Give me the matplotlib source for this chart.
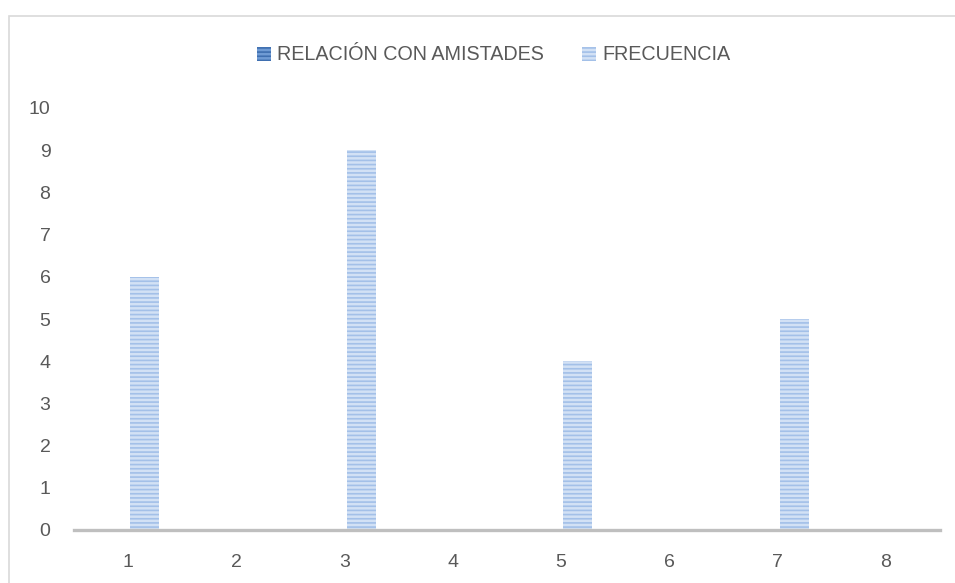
import matplotlib
matplotlib.use("Agg")
import matplotlib.pyplot as plt
import numpy as np
from matplotlib.patches import Rectangle

categories = ["1", "2", "3", "4", "5", "6", "7", "8"]
relacion = [0, 0, 0, 0, 0, 0, 0, 0]
frecuencia = [6, 0, 9, 0, 4, 0, 5, 0]
series_names = ["RELACIÓN CON AMISTADES", "FRECUENCIA"]
yticks = list(range(0, 11))

plt.rcParams['font.family'] = ['Liberation Sans', 'DejaVu Sans']
plt.rcParams['hatch.linewidth'] = 1.2

fig = plt.figure(figsize=(9.55, 5.83), dpi=100)
fig.patches.append(Rectangle((9/955, -0.1), 1.0, 1 - 16/583 + 0.1, transform=fig.transFigure,
                             fill=False, edgecolor='#d9d9d9', linewidth=1.2))
ax = fig.add_axes([74/955, 1 - 530/583, 866/955, 422/583])

x = np.arange(len(categories))
w = 0.268
b1 = ax.bar(x - 0.135, relacion, width=w, facecolor='#6f9bd4', edgecolor='#3f6fb0',
            hatch='----', linewidth=0, label=series_names[0])
b2 = ax.bar(x + 0.152, frecuencia, width=w, facecolor='#d2e1f5', edgecolor='#a3c0e8',
            hatch='----', linewidth=0, label=series_names[1])

ax.set_xlim(-0.5, len(categories) - 0.5)
ax.set_ylim(0, 10)
ax.set_yticks(yticks)
ax.set_xticks(x)
ax.set_xticklabels(categories)
for s in ['top', 'right', 'left']:
    ax.spines[s].set_visible(False)
ax.spines['bottom'].set_color('#bfbfbf')
ax.spines['bottom'].set_linewidth(2.4)
ax.tick_params(axis='both', length=0, labelsize=14, labelcolor='#595959')
ax.tick_params(axis='y', pad=17)
ax.tick_params(axis='x', pad=17)

leg = fig.legend(handles=[b1, b2], labels=series_names, loc='center', bbox_to_anchor=(0.517, 1 - 55/583),
                 ncol=2, frameon=False, fontsize=14.2, handlelength=0.7, handleheight=0.7,
                 handletextpad=0.35, columnspacing=1.9, labelcolor='#595959')

fig.savefig('out.png', dpi=100)
